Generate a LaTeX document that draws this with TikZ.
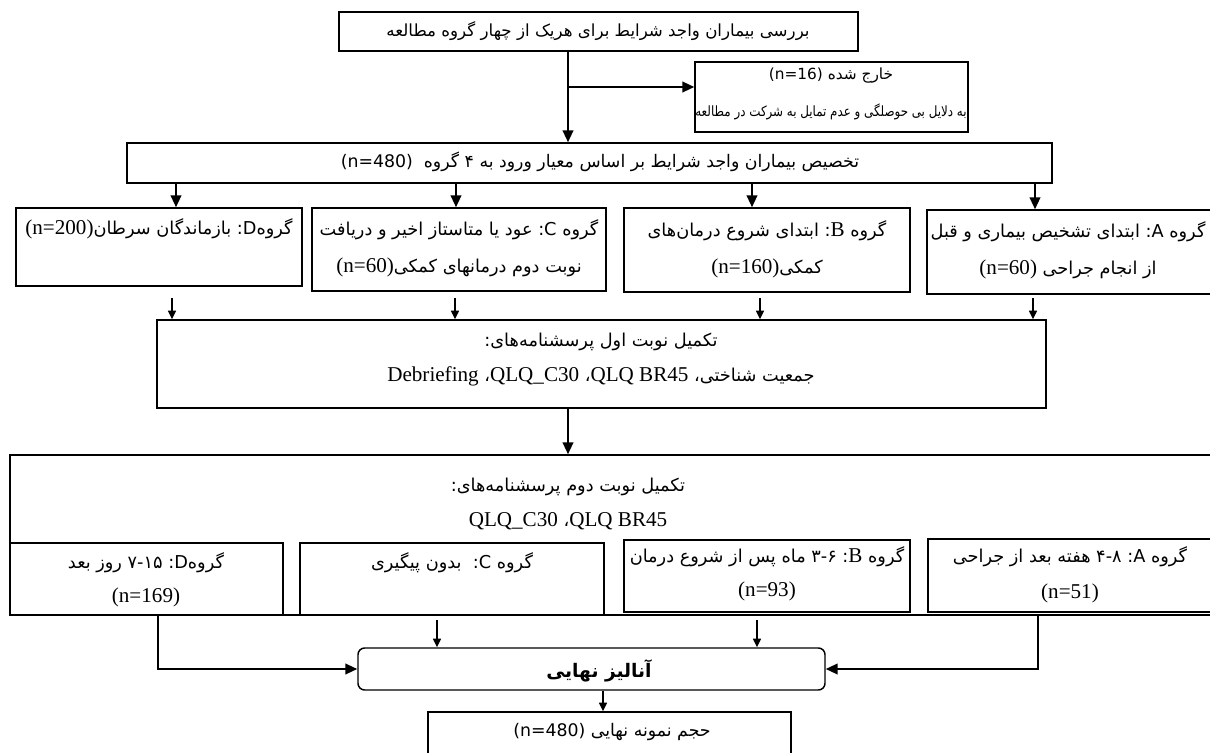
\documentclass[tikz,border=0pt]{standalone}
\usepackage{fontspec}
\usepackage{graphicx}
\usetikzlibrary{arrows.meta,fit}
\TeXXeTstate=1
\newfontfamily\arf[Script=Arabic]{DejaVu Sans}
\newfontfamily\lsf{DejaVu Sans}
\newfontfamily\ltf[Scale=1.19]{Liberation Serif}
\newcommand\rtline[1]{\beginR #1\endR}
\newcommand\latS[1]{\beginL{\lsf #1}\endL}
\newcommand\latT[1]{\beginL{\ltf #1}\endL}
\newcommand\latA[1]{\beginL{\arf #1}\endL}
\tikzset{
  box/.style={draw, line width=1.1pt, inner sep=0pt},
  rbox/.style={draw, line width=1.1pt, inner sep=0pt, rounded corners=5pt},
  tx/.style={inner sep=0pt, font=\arf\fontsize{12.5}{14}\selectfont},
  tn/.style={inner sep=0pt, font=\arf\fontsize{13.3}{15}\selectfont},
  conn/.style={line width=1.5pt, -{Triangle[length=9pt,width=8pt]}},
  sconn/.style={line width=1.2pt, -{Triangle[length=6.5pt,width=6pt]}}
}
\begin{document}
\begin{tikzpicture}[x=0.75pt,y=-0.75pt]
\useasboundingbox (0,0) rectangle (1210,753);
% boxes
\node[box, fit={(339,12) (858,51)}] (T) {};
\node[box, fit={(695,62) (968,132)}] (E) {};
\node[box, fit={(127,143) (1052,183)}] (AL) {};
\node[box, fit={(16,208) (302,286)}] (D1) {};
\node[box, fit={(312,208) (606,291)}] (C1) {};
\node[box, fit={(624,208) (910,292)}] (B1) {};
\node[box, fit={(927,210) (1216,294)}] (A1) {};
\node[box, fit={(157,320) (1046,408)}] (Q1) {};
\node[box, fit={(10,455) (1216,615)}] (Q2) {};
\node[box, fit={(10,543) (283,615)}] (D2) {};
\node[box, fit={(300,543) (604,615)}] (C2) {};
\node[box, fit={(624,540) (910,612)}] (B2) {};
\node[box, fit={(928,539) (1216,612)}] (A2) {};
\node[rbox, fit={(358,648) (825,690)}] (FA) {};
\node[box, fit={(428,712) (791,756)}] (FN) {};
% texts
\node[tx] (Tt) at (598,31) {\rtline{بررسی بیماران واجد شرایط برای هریک از چهار گروه مطالعه}};
\node[tx, font=\arf\fontsize{11.5}{13}\selectfont] (Et1) at (831,76) {\rtline{خارج شده \latS{(n=16)}}};
\node[tx, font=\arf\fontsize{10.6}{12}\selectfont] (Et2) at (831,112) {\scalebox{0.84}[1]{\rtline{به دلایل بی حوصلگی و عدم تمایل به شرکت در مطالعه}}};
\node[tx, font=\arf\fontsize{13}{15}\selectfont] (ALt) at (600,162) {\rtline{تخصیص بیماران واجد شرایط بر اساس معیار ورود به ۴ گروه\ \ \latS{(n=480)}}};
\node[tn] (D1t) at (159,229) {\rtline{گروه\latS{D}: بازماندگان سرطان\latT{(n=200)}}};
\node[tn] (C1t1) at (459,230) {\rtline{گروه \latS{C}: عود یا متاستاز اخیر و دریافت}};
\node[tn] (C1t2) at (459,267) {\rtline{نوبت دوم درمانهای کمکی\latT{(n=60)}}};
\node[tn] (B1t1) at (767,231) {\rtline{گروه \latT{B}: ابتدای شروع درمان‌های}};
\node[tn] (B1t2) at (767,268) {\rtline{کمکی\latT{(n=160)}}};
\node[tn] (A1t1) at (1068,232) {\rtline{گروه \latS{A}: ابتدای تشخیص بیماری و قبل}};
\node[tn] (A1t2) at (1068,269) {\rtline{از انجام جراحی \latT{(n=60)}}};
\node[tn] (Q1t1) at (601,342) {\rtline{تکمیل نوبت اول پرسشنامه‌های:}};
\node[tn] (Q1t2) at (601,376) {\rtline{جمعیت شناختی، \latT{QLQ BR45}، \latT{QLQ\_C30}، \latT{Debriefing}}};
\node[tn] (Q2t1) at (568,487) {\rtline{تکمیل نوبت دوم پرسشنامه‌های:}};
\node[tn] (Q2t2) at (568,521) {\rtline{\latT{QLQ BR45}، \latT{QLQ\_C30}}};
\node[tn] (D2t1) at (146,563) {\rtline{گروه\latS{D}: \latA{۷-۱۵} روز بعد}};
\node[tn] (D2t2) at (146,597) {\latT{(n=169)}};
\node[tn] (C2t) at (452,563) {\rtline{گروه \latS{C}:\ \ بدون پیگیری}};
\node[tn] (B2t1) at (767,557) {\rtline{گروه \latT{B}: \latA{۳-۶} ماه پس از شروع درمان}};
\node[tn] (B2t2) at (767,591) {\latT{(n=93)}};
\node[tn] (A2t1) at (1070,557) {\rtline{گروه \latS{A}: \latA{۴-۸} هفته بعد از جراحی}};
\node[tn] (A2t2) at (1070,593) {\latT{(n=51)}};
\node[tn, font=\arf\bfseries\fontsize{14}{16}\selectfont] (FAt) at (599,671) {\rtline{آنالیز نهایی}};
\node[tn, font=\arf\fontsize{13}{15}\selectfont] (FNt) at (612,732) {\rtline{حجم نمونه نهایی \latS{(n=480)}}};
% connector coordinates
\coordinate (tr) at (568,0);
\coordinate (br) at (568,87);
\coordinate (xa) at (176,0);
\coordinate (xb) at (456,0);
\coordinate (xc) at (752,0);
\coordinate (xd) at (1035,0);
\draw[conn] (T.south -| tr) -- (AL.north -| tr);
\draw[conn] (br) -- (br -| E.west);
\foreach \c/\b in {xa/D1,xb/C1,xc/B1,xd/A1}
  \draw[conn] (AL.south -| \c) -- (\b.north -| \c);
% short arrows into Q1
\coordinate (s1) at (172,298);
\coordinate (s2) at (455,298);
\coordinate (s3) at (760,298);
\coordinate (s4) at (1033,298);
\foreach \s in {s1,s2,s3,s4}
  \draw[sconn] (\s) -- (\s |- Q1.north);
\draw[conn] (Q1.south -| tr) -- (Q2.north -| tr);
% bottom
\coordinate (u1) at (437,620);
\coordinate (u2) at (757,620);
\draw[sconn] (u1) -- (u1 |- FA.north);
\draw[sconn] (u2) -- (u2 |- FA.north);
\coordinate (dl) at (158,0);
\coordinate (dr) at (1038,0);
\draw[conn] (Q2.south -| dl) |- (FA.west);
\draw[conn] (Q2.south -| dr) |- (FA.east);
\coordinate (fx) at (603,0);
\draw[sconn] (FA.south -| fx) -- (FN.north -| fx);
\end{tikzpicture}
\end{document}
